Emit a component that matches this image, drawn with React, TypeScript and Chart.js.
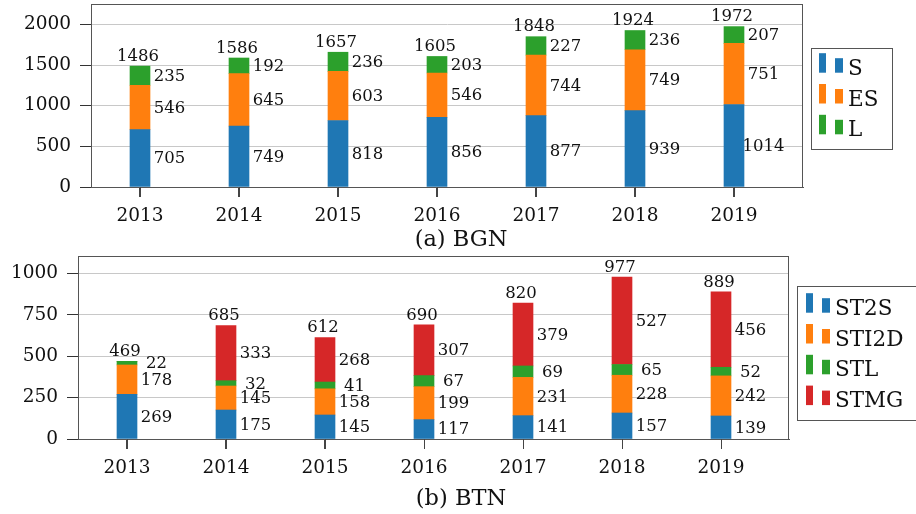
import React, { useEffect, useRef } from "react";
import { Chart, registerables } from "chart.js";

Chart.register(...registerables);

const years = [2013, 2014, 2015, 2016, 2017, 2018, 2019];

const bgnS = [705, 749, 818, 856, 877, 939, 1014];
const bgnES = [546, 645, 603, 546, 744, 749, 751];
const bgnL = [235, 192, 236, 203, 227, 236, 207];
const bgnTotals = [1486, 1586, 1657, 1605, 1848, 1924, 1972];
const bgnTicks = [0, 500, 1000, 1500, 2000];

const btnST2S = [269, 175, 145, 117, 141, 157, 139];
const btnSTI2D = [178, 145, 158, 199, 231, 228, 242];
const btnSTL = [22, 32, 41, 67, 69, 65, 52];
const btnSTMG = [0, 333, 268, 307, 379, 527, 456];
const btnTotals = [469, 685, 612, 690, 820, 977, 889];
const btnTicks = [0, 250, 500, 750, 1000];

const BLUE = "#1f77b4";
const ORANGE = "#ff7f0e";
const GREEN = "#2ca02c";
const RED = "#d62728";

const FONT = "'DejaVu Serif', serif";

type Series = { label: string; data: number[]; color: string };

type Cfg = {
  width: number;
  height: number;
  area: { left: number; right: number; top: number; bottom: number };
  yMax: number;
  yTicks: number[];
  series: Series[];
  totals: number[];
  legendBox: { x1: number; y1: number; x2: number; y2: number };
  legendRow0: number;
  legendStep: number;
  legendRect1X: number;
  legendRect2X: number;
  legendTextX: number;
};

function StackedChart({ cfg, top }: { cfg: Cfg; top: number }) {
  const ref = useRef<HTMLCanvasElement | null>(null);
  useEffect(() => {
    const canvas = ref.current;
    if (!canvas) return;
    const { area } = cfg;
    const plotW = area.right - area.left;
    const pxPerYear = 99;
    const xMin = years[0] - 49 / pxPerYear;
    const xMax = years[years.length - 1] + (plotW - 49 - 6 * pxPerYear) / pxPerYear;

    const framePlugin = {
      id: "frameAndLabels",
      afterDraw(chart: any) {
        const ctx = chart.ctx as CanvasRenderingContext2D;
        const ca = chart.chartArea;
        const yScale = chart.scales.y;
        const xScale = chart.scales.x;
        ctx.save();
        ctx.strokeStyle = "#555";
        ctx.lineWidth = 1;
        ctx.strokeRect(ca.left + 0.5, ca.top + 0.5, ca.right - ca.left - 1, ca.bottom - ca.top);

        // x tick marks
        ctx.strokeStyle = "#444";
        ctx.beginPath();
        years.forEach((yr) => {
          const x = Math.round(xScale.getPixelForValue(yr)) + 0.5;
          ctx.moveTo(x, ca.bottom);
          ctx.lineTo(x, ca.bottom + 10);
        });
        ctx.stroke();

        // segment labels
        ctx.fillStyle = "#111";
        ctx.font = `16.5px ${FONT}`;
        ctx.textAlign = "center";
        ctx.textBaseline = "middle";
        cfg.series.forEach((s, di) => {
          const meta = chart.getDatasetMeta(di);
          meta.data.forEach((bar: any, i: number) => {
            const v = s.data[i];
            if (!v) return;
            const yMid = (bar.y + bar.base) / 2;
            ctx.fillText(String(v), bar.x + 29.5, yMid + 1);
          });
        });
        // totals
        cfg.totals.forEach((t, i) => {
          const x = xScale.getPixelForValue(years[i]);
          const y = yScale.getPixelForValue(t);
          ctx.fillText(String(t), x - 2, y - 9.5);
        });

        // legend
        const lb = cfg.legendBox;
        ctx.fillStyle = "#fff";
        ctx.fillRect(lb.x1, lb.y1, lb.x2 - lb.x1, lb.y2 - lb.y1);
        ctx.strokeStyle = "#555";
        ctx.strokeRect(lb.x1 + 0.5, lb.y1 + 0.5, lb.x2 - lb.x1, lb.y2 - lb.y1);
        ctx.font = `21.5px ${FONT}`;
        ctx.textAlign = "left";
        ctx.textBaseline = "alphabetic";
        cfg.series.forEach((s, i) => {
          const bottom = cfg.legendRow0 + i * cfg.legendStep;
          ctx.fillStyle = s.color;
          ctx.fillRect(cfg.legendRect1X, bottom - 19.5, 7, 19.5);
          ctx.fillRect(cfg.legendRect2X, bottom - 14.5, 8, 14.5);
          ctx.fillStyle = "#111";
          ctx.fillText(s.label, cfg.legendTextX, bottom + 2);
        });
        ctx.restore();
      },
    };

    const chart = new Chart(canvas, {
      type: "bar",
      data: {
        labels: years,
        datasets: cfg.series.map((s) => ({
          label: s.label,
          data: years.map((y, i) => ({ x: y, y: s.data[i] })),
          backgroundColor: s.color,
          borderWidth: 0,
          barThickness: 20,
        })) as any,
      },
      options: {
        animation: false,
        responsive: false,
        maintainAspectRatio: false,
        layout: {
          padding: { left: 0, top: area.top, right: cfg.width - area.right, bottom: 0 },
        },
        plugins: {
          legend: { display: false },
          tooltip: { enabled: false },
          title: { display: false },
        },
        scales: {
          x: {
            type: "linear",
            stacked: true,
            min: xMin,
            max: xMax,
            offset: false,
            afterBuildTicks: (axis: any) => {
              axis.ticks = years.map((v) => ({ value: v }));
            },
            afterFit: (scale: any) => {
              scale.height = cfg.height - area.bottom;
              scale.paddingLeft = 0;
              scale.paddingRight = 0;
              scale.paddingTop = 0;
              scale.paddingBottom = 0;
            },
            grid: {
              offset: false,
              drawOnChartArea: false,
              drawTicks: true,
              tickLength: 10,
              tickColor: "#444",
            },
            border: { display: true, color: "#555" },
            ticks: {
              callback: (v: any) => String(v),
              color: "#111",
              font: { family: FONT, size: 18.5 },
              padding: 8,
              maxRotation: 0,
              autoSkip: false,
            },
          },
          y: {
            type: "linear",
            stacked: true,
            min: 0,
            max: cfg.yMax,
            afterBuildTicks: (axis: any) => {
              axis.ticks = cfg.yTicks.map((v) => ({ value: v }));
            },
            afterFit: (scale: any) => {
              scale.width = area.left;
              scale.paddingLeft = 0;
              scale.paddingRight = 0;
              scale.paddingTop = 0;
              scale.paddingBottom = 0;
            },
            grid: {
              color: "#c8c8c8",
              tickColor: "#333",
              drawTicks: true,
              tickLength: 11,
            },
            border: { display: true, color: "#555" },
            ticks: {
              callback: (v: any) => String(v),
              color: "#111",
              font: { family: FONT, size: 18.5 },
              padding: 9,
            },
          },
        },
      } as any,
      plugins: [framePlugin],
    });
    return () => chart.destroy();
  }, [cfg]);

  return (
    <canvas
      ref={ref}
      width={cfg.width}
      height={cfg.height}
      style={{ position: "absolute", left: 0, top, width: cfg.width, height: cfg.height }}
    />
  );
}

const cfgA: Cfg = {
  width: 916,
  height: 250,
  area: { left: 91, right: 803, top: 4, bottom: 187 },
  yMax: 2250,
  yTicks: bgnTicks,
  series: [
    { label: "S", data: bgnS, color: BLUE },
    { label: "ES", data: bgnES, color: ORANGE },
    { label: "L", data: bgnL, color: GREEN },
  ],
  totals: bgnTotals,
  legendBox: { x1: 811, y1: 48, x2: 892, y2: 149 },
  legendRow0: 72.7,
  legendStep: 30.8,
  legendRect1X: 819,
  legendRect2X: 835,
  legendTextX: 848,
};

const cfgB: Cfg = {
  width: 916,
  height: 264,
  area: { left: 78, right: 789, top: 6, bottom: 189 },
  yMax: 1105,
  yTicks: btnTicks,
  series: [
    { label: "ST2S", data: btnST2S, color: BLUE },
    { label: "STI2D", data: btnSTI2D, color: ORANGE },
    { label: "STL", data: btnSTL, color: GREEN },
    { label: "STMG", data: btnSTMG, color: RED },
  ],
  totals: btnTotals,
  legendBox: { x1: 797, y1: 36, x2: 917, y2: 170 },
  legendRow0: 62.7,
  legendStep: 30.8,
  legendRect1X: 806,
  legendRect2X: 822,
  legendTextX: 835,
};

const captionStyle: React.CSSProperties = {
  position: "absolute",
  transform: "translate(-50%, -50%)",
  fontFamily: FONT,
  fontSize: 22.5,
  lineHeight: 1,
  color: "#111",
  whiteSpace: "nowrap",
};

export default function App() {
  return (
    <div
      style={{
        position: "fixed",
        left: 0,
        top: 0,
        width: 916,
        height: 514,
        background: "#fff",
        overflow: "hidden",
      }}
    >
      <StackedChart cfg={cfgA} top={0} />
      <StackedChart cfg={cfgB} top={250} />
      <div style={{ ...captionStyle, left: 461, top: 238 }}>(a) BGN</div>
      <div style={{ ...captionStyle, left: 461, top: 497 }}>(b) BTN</div>
    </div>
  );
}
